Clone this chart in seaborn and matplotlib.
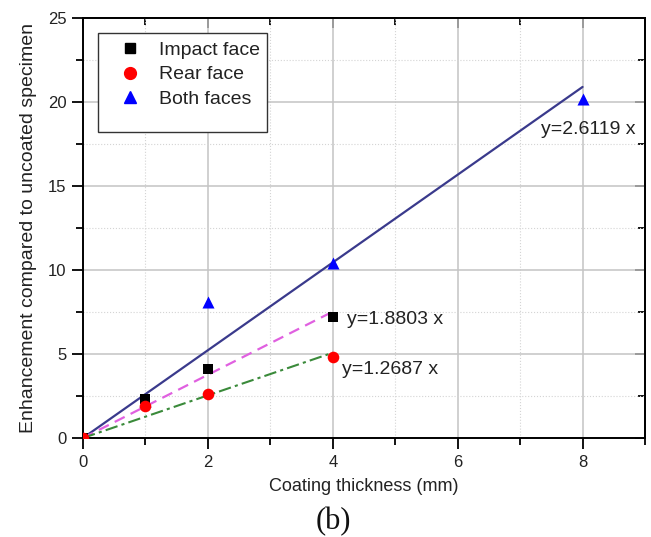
import matplotlib
matplotlib.use("Agg")
import matplotlib.pyplot as plt
from matplotlib.lines import Line2D
from matplotlib.patches import Rectangle
from matplotlib.ticker import MultipleLocator
import numpy as np
import pandas as pd
import seaborn as sns

# Measured enhancement per coating thickness
thickness = [0, 1, 2, 4]
impact_face = [0, 2.3, 4.1, 7.2]
rear_face = [0, 1.9, 2.6, 4.8]
both_thickness = [0, 1, 2, 4, 8]
both_faces = [0, 2.2, 8.1, 10.4, 20.2]

# Linear fits through the origin
slope_impact = 1.8803
slope_rear = 1.2687
slope_both = 2.6119
fit_end_single = 4
fit_end_both = 8

series_names = ["Impact face", "Rear face", "Both faces"]

sns.set_theme(style="white")
plt.rcParams["font.family"] = ["Liberation Sans", "DejaVu Sans"]

df = pd.concat([
    pd.DataFrame({"x": thickness, "y": impact_face, "series": series_names[0]}),
    pd.DataFrame({"x": thickness, "y": rear_face, "series": series_names[1]}),
    pd.DataFrame({"x": both_thickness, "y": both_faces, "series": series_names[2]}),
])

fig = plt.figure(figsize=(6.51, 5.37), dpi=100)
ax = fig.add_axes([0.1275, 0.1844, 0.8633, 0.7821])

ax.set_xlim(0, 9)
ax.set_ylim(0, 25)
ax.xaxis.set_major_locator(MultipleLocator(2))
ax.xaxis.set_minor_locator(MultipleLocator(1))
ax.yaxis.set_major_locator(MultipleLocator(5))
ax.yaxis.set_minor_locator(MultipleLocator(2.5))
ax.grid(which="major", color="#c4c4c4", lw=1.1, ls="-")
ax.grid(which="minor", color="#d4d4d4", lw=0.8, ls=":")
ax.set_axisbelow(True)

# Fit lines
fx1 = np.array([0, fit_end_both])
sns.lineplot(x=fx1, y=slope_both * fx1, ax=ax, color="#3a3a8c", lw=1.6, zorder=2)
fx2 = np.array([0, fit_end_single])
sns.lineplot(x=fx2, y=slope_impact * fx2, ax=ax, color="#e060e0", lw=1.6,
             zorder=2).lines[-1].set_linestyle((0, (5, 3)))
sns.lineplot(x=fx2, y=slope_rear * fx2, ax=ax, color="#3a8a3a", lw=1.5,
             zorder=2).lines[-1].set_linestyle((0, (6, 2, 1.5, 2)))

# Data points
palette = {series_names[0]: "black", series_names[1]: "#ff0000", series_names[2]: "#0000ff"}
markers = {series_names[0]: "s", series_names[1]: "o", series_names[2]: "^"}
sizes = {series_names[0]: 45, series_names[1]: 70, series_names[2]: 75}
for name in [series_names[2], series_names[0], series_names[1]]:
    sub = df[df["series"] == name]
    sns.scatterplot(data=sub, x="x", y="y", color=palette[name], marker=markers[name],
                    s=sizes[name], linewidth=0, ax=ax, zorder=3, legend=False)

txt_kw = dict(fontsize=14, color="#222222", va="center")
ax.text(7.34, 18.35, f"y={slope_both} x", **txt_kw)
ax.text(4.22, 7.07, f"y={slope_impact} x", **txt_kw)
ax.text(4.14, 4.08, f"y={slope_rear} x", **txt_kw)

ax.set_xlabel("Coating thickness (mm)", fontsize=13, color="#222222", labelpad=6)
ax.set_ylabel("Enhancement compared to uncoated specimen", fontsize=14,
              color="#222222", labelpad=8)

for s in ax.spines.values():
    s.set_visible(True)
    s.set_color("black")
    s.set_linewidth(1.4)

ax.tick_params(which="both", direction="out", color="black", width=1.3,
               labelsize=12, labelcolor="#222222", bottom=True, left=True, pad=4)
ax.tick_params(which="major", length=8)
ax.tick_params(which="minor", length=5)

# Inward ticks on the opposite spines
top = ax.secondary_xaxis("top")
top.xaxis.set_major_locator(MultipleLocator(2))
top.xaxis.set_minor_locator(MultipleLocator(1))
top.tick_params(which="both", direction="in", labeltop=False, width=1.3, color="black")
top.tick_params(which="major", length=7)
top.tick_params(which="minor", length=5)
top.spines["top"].set_linewidth(1.4)
right = ax.secondary_yaxis("right")
right.yaxis.set_major_locator(MultipleLocator(5))
right.yaxis.set_minor_locator(MultipleLocator(2.5))
right.tick_params(which="both", direction="in", labelright=False, width=1.3, color="black")
right.tick_params(which="major", length=7)
right.tick_params(which="minor", length=5)
right.spines["right"].set_linewidth(1.4)

# Legend box
ax.add_patch(Rectangle((0.0267, 0.7286), 0.3007, 0.2357, transform=ax.transAxes,
                       facecolor="white", edgecolor="#333333", lw=1.0, zorder=4))
handles = [
    Line2D([], [], ls="", marker="s", color="black", markersize=7),
    Line2D([], [], ls="", marker="o", color="#ff0000", markersize=8.5),
    Line2D([], [], ls="", marker="^", color="#0000ff", markersize=8.5),
]
leg = ax.legend(handles, series_names, loc="upper left",
                bbox_to_anchor=(0.058, 0.945), fontsize=14, frameon=False,
                borderpad=0.0, borderaxespad=0.0, labelspacing=0.36,
                handletextpad=0.72, handlelength=1.5, labelcolor="#222222")
leg.set_zorder(5)

fig.text(0.512, 0.028, "(b)", fontsize=22, family="Liberation Serif", ha="center",
         va="center", color="#111111")

fig.savefig("out.png", dpi=100)
